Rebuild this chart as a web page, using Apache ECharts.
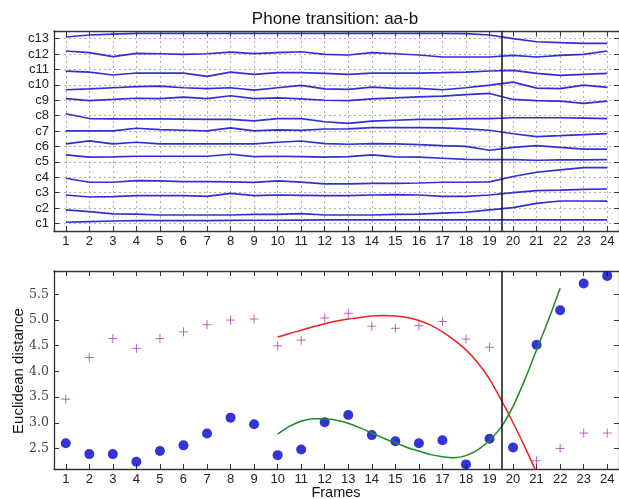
<!DOCTYPE html>
<html><head><meta charset="utf-8">
<script src="https://cdn.jsdelivr.net/npm/echarts@6/dist/echarts.min.js"></script>
<style>html,body{margin:0;padding:0;background:#fff}#c{width:619px;height:499px}</style>
</head><body><div id="c"></div>
<script>
const frames = [1,2,3,4,5,6,7,8,9,10,11,12,13,14,15,16,17,18,19,20,21,22,23,24];
const cLevels = [1,2,3,4,5,6,7,8,9,10,11,12,13];
const cNames = ['c1','c2','c3','c4','c5','c6','c7','c8','c9','c10','c11','c12','c13'];
const c1  = [1.07,1.11,1.15,1.17,1.17,1.18,1.18,1.19,1.20,1.20,1.21,1.22,1.22,1.22,1.22,1.22,1.22,1.22,1.22,1.22,1.22,1.22,1.22,1.22];
const c2  = [1.87,1.76,1.61,1.60,1.54,1.54,1.54,1.54,1.58,1.58,1.63,1.54,1.54,1.54,1.58,1.60,1.66,1.72,1.87,2.02,2.30,2.45,2.45,2.44];
const c3  = [2.84,2.71,2.73,2.80,2.80,2.80,2.75,2.95,2.80,2.84,2.82,2.80,2.80,2.84,2.87,2.84,2.75,2.75,2.84,3.00,3.12,3.16,3.21,3.23];
const c4  = [3.93,3.67,3.67,3.78,3.76,3.71,3.71,3.69,3.66,3.76,3.68,3.56,3.56,3.60,3.60,3.62,3.67,3.67,3.69,4.04,4.32,4.47,4.62,4.62];
const c5  = [5.45,5.30,5.32,5.36,5.36,5.36,5.36,5.49,5.34,5.36,5.33,5.30,5.34,5.45,5.32,5.30,5.23,5.16,5.14,5.14,5.10,5.12,5.12,5.14];
const c6  = [6.16,6.36,6.16,6.27,6.16,6.16,6.16,6.16,6.16,6.27,6.35,6.18,6.14,6.18,6.16,6.12,6.05,6.00,5.75,5.93,6.05,5.93,5.82,5.82];
const c7  = [7.01,7.01,7.01,7.18,7.09,7.05,7.01,7.20,7.01,7.07,7.04,7.13,7.14,7.22,7.22,7.22,7.20,7.14,7.05,6.82,6.64,6.70,6.77,6.83];
const c8  = [8.12,7.81,7.79,7.79,7.79,7.77,7.75,7.75,7.66,7.81,7.81,7.60,7.49,7.64,7.70,7.75,7.75,7.81,7.81,7.86,7.86,7.86,7.84,7.81];
const c9  = [9.11,8.98,9.05,9.13,9.11,9.20,9.11,9.29,9.10,9.15,9.09,9.00,8.98,9.09,9.15,9.22,9.27,9.37,9.44,9.05,8.98,8.94,8.79,8.94];
const c10 = [9.68,9.74,9.81,9.88,9.92,9.81,9.76,9.81,9.66,9.81,9.96,9.74,9.70,9.85,9.77,9.77,9.68,9.81,9.98,10.18,9.79,9.76,9.98,9.83];
const c11 = [10.89,10.83,10.64,10.77,10.76,10.76,10.55,10.83,10.68,10.79,10.79,10.75,10.68,10.76,10.76,10.76,10.79,10.83,10.90,10.94,10.75,10.61,10.68,10.75];
const c12 = [12.20,12.09,11.83,12.04,12.02,11.98,12.02,12.13,12.03,12.09,12.15,11.98,11.94,12.09,12.02,11.94,11.81,11.81,11.81,11.91,11.81,11.91,11.98,12.20];
const c13 = [13.11,13.24,13.30,13.34,13.35,13.35,13.35,13.35,13.34,13.34,13.34,13.34,13.34,13.34,13.34,13.34,13.34,13.33,13.24,13.00,12.80,12.74,12.70,12.70];

const distTicks = [2.5,3.0,3.5,4.0,4.5,5.0,5.5];
const distDots = [2.60,2.39,2.39,2.24,2.45,2.56,2.79,3.10,2.97,2.37,2.48,3.01,3.15,2.76,2.64,2.60,2.66,2.19,2.69,2.52,4.52,5.19,5.71,5.86];
const distPlus = [3.46,4.27,4.64,4.45,4.64,4.77,4.91,5.00,5.02,4.50,4.61,5.04,5.13,4.88,4.84,4.89,4.97,4.63,4.47,null,2.26,2.50,2.80,2.80];
const redFitX = [10,10.5,11,11.5,12,12.5,13,13.5,14,14.5,15,15.5,16,16.5,17,17.5,18,18.5,19,19.5,20,20.5,21];
const redFitY = [4.67,4.74,4.80,4.87,4.93,4.98,5.02,5.05,5.08,5.09,5.08,5.05,4.99,4.90,4.77,4.61,4.42,4.17,3.85,3.44,3.00,2.53,2.03];
const greenFitX = [10,10.5,11,11.5,12,12.5,13,13.5,14,14.5,15,15.5,16,16.5,17,17.5,18,18.5,19,19.5,20,20.5,21,21.5,22];
const greenFitY = [2.78,2.93,3.03,3.08,3.08,3.05,2.99,2.90,2.80,2.70,2.61,2.52,2.45,2.38,2.34,2.32,2.36,2.47,2.66,2.92,3.32,3.84,4.42,5.00,5.62];
const boundary = 19.5;

const cRows = [c1,c2,c3,c4,c5,c6,c7,c8,c9,c10,c11,c12,c13];
const AX = '#333';
const SANS = 'Liberation Sans, Arial, sans-serif';
const SERIF = 'DejaVu Serif, serif';

function xAx(grid, pos, labels, split) {
  return {
    type: 'value', gridIndex: grid, position: pos, min: 0.5, max: 24.5,
    axisLine: {show: true, onZero: false, lineStyle: {color: AX, width: 1.3}},
    axisTick: {show: true, inside: true, length: 5, customValues: frames, lineStyle: {color: AX, width: 1}},
    axisLabel: {show: labels, customValues: frames, margin: 4, fontFamily: SANS, fontSize: 13, color: '#222'},
    splitLine: {show: split, lineStyle: {color: '#999', width: 0.8, type: [2, 3]}}
  };
}
function yAx(grid, pos, min, max, vals, labels, split, fmt, font) {
  return {
    type: 'value', gridIndex: grid, position: pos, min: min, max: max,
    axisLine: {show: true, onZero: false, lineStyle: {color: AX, width: 1.3}},
    axisTick: {show: true, inside: true, length: 5, customValues: vals, lineStyle: {color: AX, width: 1}},
    axisLabel: {show: labels, customValues: vals, margin: 5, fontFamily: font, fontSize: font === SERIF ? 12.5 : 13, color: font === SERIF ? '#444' : '#222', formatter: fmt},
    splitLine: {show: split, lineStyle: {color: '#999', width: 0.8, type: [2, 3]}}
  };
}

const boundaryLine = {
  silent: true, symbol: 'none', label: {show: false},
  lineStyle: {color: '#111', width: 1.5, type: 'solid'},
  data: [{xAxis: boundary}]
};

const series = [];
cRows.forEach((row, i) => {
  series.push({
    type: 'line', name: cNames[i], xAxisIndex: 0, yAxisIndex: 0,
    data: frames.map((f, k) => [f, row[k]]),
    showSymbol: false, symbol: 'none',
    lineStyle: {color: '#3030d2', width: 1.7},
    markLine: i === 0 ? boundaryLine : undefined
  });
});
series.push({
  type: 'line', xAxisIndex: 2, yAxisIndex: 2,
  data: redFitX.map((x, k) => [x, redFitY[k]]),
  smooth: 0.3, symbol: 'none', lineStyle: {color: '#ee2020', width: 1.5},
  markLine: boundaryLine
});
series.push({
  type: 'line', xAxisIndex: 2, yAxisIndex: 2,
  data: greenFitX.map((x, k) => [x, greenFitY[k]]),
  smooth: 0.3, symbol: 'none', lineStyle: {color: '#1f8a1f', width: 1.5}
});
series.push({
  type: 'scatter', xAxisIndex: 2, yAxisIndex: 2,
  data: frames.map((f, k) => [f, distPlus[k]]).filter(d => d[1] !== null),
  symbol: 'path://M0,5L10,5M5,0L5,10', symbolSize: 9,
  itemStyle: {color: 'none', borderColor: '#b03cb0', borderWidth: 1}
});
series.push({
  type: 'scatter', xAxisIndex: 2, yAxisIndex: 2,
  data: frames.map((f, k) => [f, distDots[k]]),
  symbol: 'circle', symbolSize: 10,
  itemStyle: {color: '#0000cc'}
});

const chart = echarts.init(document.getElementById('c'), null, {renderer: 'canvas'});
chart.setOption({
  animation: false,
  backgroundColor: '#fff',
  grid: [
    {left: 54, top: 31, width: 566, height: 200},
    {left: 54, top: 271, width: 566, height: 198}
  ],
  xAxis: [
    xAx(0, 'bottom', true, true),
    xAx(0, 'top', false, false),
    xAx(1, 'bottom', true, false),
    xAx(1, 'top', false, false)
  ],
  yAxis: [
    yAx(0, 'left', 0.5, 13.5, cLevels, true, true, v => 'c' + Math.round(v), SANS),
    yAx(0, 'right', 0.5, 13.5, cLevels, false, false, null, SANS),
    yAx(1, 'left', 2.1, 5.955, distTicks, true, false, v => v.toFixed(1), SERIF),
    yAx(1, 'right', 2.1, 5.955, distTicks, false, false, null, SERIF)
  ],
  graphic: [
    {type: 'text', x: 335, y: 19, style: {text: 'Phone transition: aa-b', fontFamily: SANS, fontSize: 17, fill: '#111', align: 'center', verticalAlign: 'middle'}},
    {type: 'text', x: 336, y: 493, style: {text: 'Frames', fontFamily: SANS, fontSize: 14.5, fill: '#111', align: 'center', verticalAlign: 'middle'}},
    {type: 'text', x: 19, y: 371, rotation: Math.PI / 2, style: {text: 'Euclidean distance', fontFamily: SANS, fontSize: 15, fill: '#111', align: 'center', verticalAlign: 'middle'}}
  ],
  series: series
});
</script>
</body></html>
